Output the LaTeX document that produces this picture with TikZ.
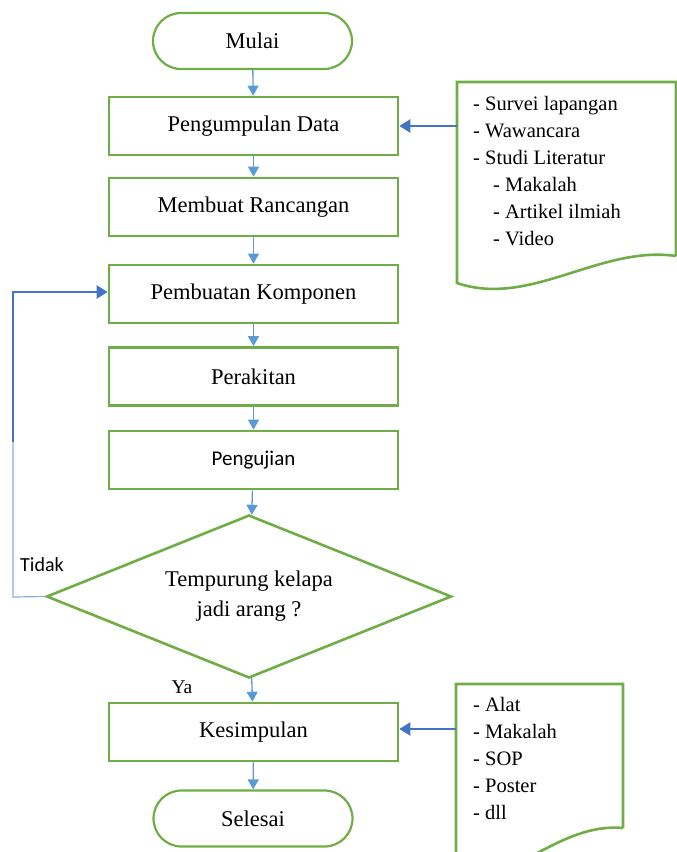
\documentclass[tikz,border=0pt]{standalone}
\usepackage{fontspec}
\setmainfont{Liberation Serif}
\newfontfamily\calib{Carlito}
\usetikzlibrary{arrows.meta,shapes.geometric}
\definecolor{boxgreen}{HTML}{70AD47}
\definecolor{flowblue}{HTML}{5B9BD5}
\definecolor{darkblue}{HTML}{4472C4}
\definecolor{thinblue}{HTML}{8FAADC}
\tikzset{
  procbox/.style={draw=boxgreen, line width=2.6pt, minimum width=289pt, minimum height=58pt, inner sep=0pt, font=\fontsize{22.5}{26}\selectfont},
  termbox/.style={draw=boxgreen, line width=2.2pt, rounded corners=28pt, minimum width=199pt, minimum height=56pt, inner sep=0pt, font=\fontsize{22.5}{26}\selectfont},
  decbox/.style={draw=boxgreen, line width=2.6pt, diamond, aspect=2.5, minimum width=405pt, minimum height=163pt, inner sep=0pt, align=center, font=\fontsize{22.5}{30}\selectfont},
  flow/.style={draw=flowblue, line width=1.3pt, -{Triangle[width=11pt,length=10pt]}},
  docarrow/.style={draw=darkblue, line width=2.3pt, -{Triangle[width=13pt,length=11pt]}},
  docshape/.style={draw=boxgreen, line width=2.6pt},
  doctext/.style={inner sep=0pt, anchor=north west, align=left, font=\fontsize{20.5}{27}\selectfont},
  lbl/.style={inner sep=0pt}
}
\begin{document}
\begin{tikzpicture}[x=1pt,y=-1pt]
\useasboundingbox (0,0) rectangle (677,852);
\begin{scope}
\clip (0,0) rectangle (677,852);
% nodes
\node[termbox] (mulai) at (252.5,41) {Mulai};
\node[procbox] (pd) at (253.5,126) {Pengumpulan Data};
\node[procbox] (mr) at (253.5,207) {Membuat Rancangan};
\node[procbox] (pk) at (253.5,294) {Pembuatan Komponen};
\node[procbox] (pr) at (253.5,376.5) {Perakitan};
\node[procbox, font=\calib\fontsize{21}{25}\selectfont] (pu) at (253.5,460) {Pengujian};
\node[decbox] (tk) at (249,596.5) {Tempurung kelapa\\jadi arang ?};
\node[procbox] (ks) at (253.5,732) {Kesimpulan};
\node[termbox] (sl) at (253,818.5) {Selesai};
\node[lbl, font=\calib\fontsize{20}{24}\selectfont] (tidak) at (42,565) {Tidak};
\node[lbl, font=\fontsize{19.5}{24}\selectfont] (ya) at (182,687) {Ya};
% document 1
\draw[docshape] (676,256) -- (676,82) -- (457,82) -- (457,283)
  .. controls (530,308) and (600,245) .. (676,256);
\node[doctext] (d1) at (473,96) {- Survei lapangan\\- Wawancara\\- Studi Literatur\\\hspace{20pt}- Makalah\\\hspace{20pt}- Artikel ilmiah\\\hspace{20pt}- Video};
\coordinate (d1in) at (457,126);
% document 2
\draw[docshape] (623,828) -- (623,684) -- (456,684) -- (456,880)
  .. controls (510,885) and (560,822) .. (623,828);
\node[doctext] (d2) at (473,697) {- Alat\\- Makalah\\- SOP\\- Poster\\- dll};
\coordinate (d2in) at (456,729);
% connectors
\draw[flow] (mulai) -- (pd);
\draw[flow] (pd) -- (mr);
\draw[flow] (mr) -- (pk);
\draw[flow] (pk) -- (pr);
\draw[flow] (pr) -- (pu);
\draw[flow] (pu) -- (tk);
\draw[flow] (tk) -- (ks);
\draw[flow] (ks) -- (sl);
\draw[docarrow] (d1in) -- (pd.east);
\draw[docarrow] (d2in) -- (ks.east |- d2in);
\coordinate (fb1) at (13,597);
\coordinate (fb2) at (13,442);
\coordinate (fb3) at (13,292);
\draw[draw=thinblue, line width=1.2pt] (tk.west) -- (fb1) -- (fb2);
\draw[docarrow] (fb2) -- (fb3) -- (pk.west |- fb3);
\end{scope}
\end{tikzpicture}
\end{document}
